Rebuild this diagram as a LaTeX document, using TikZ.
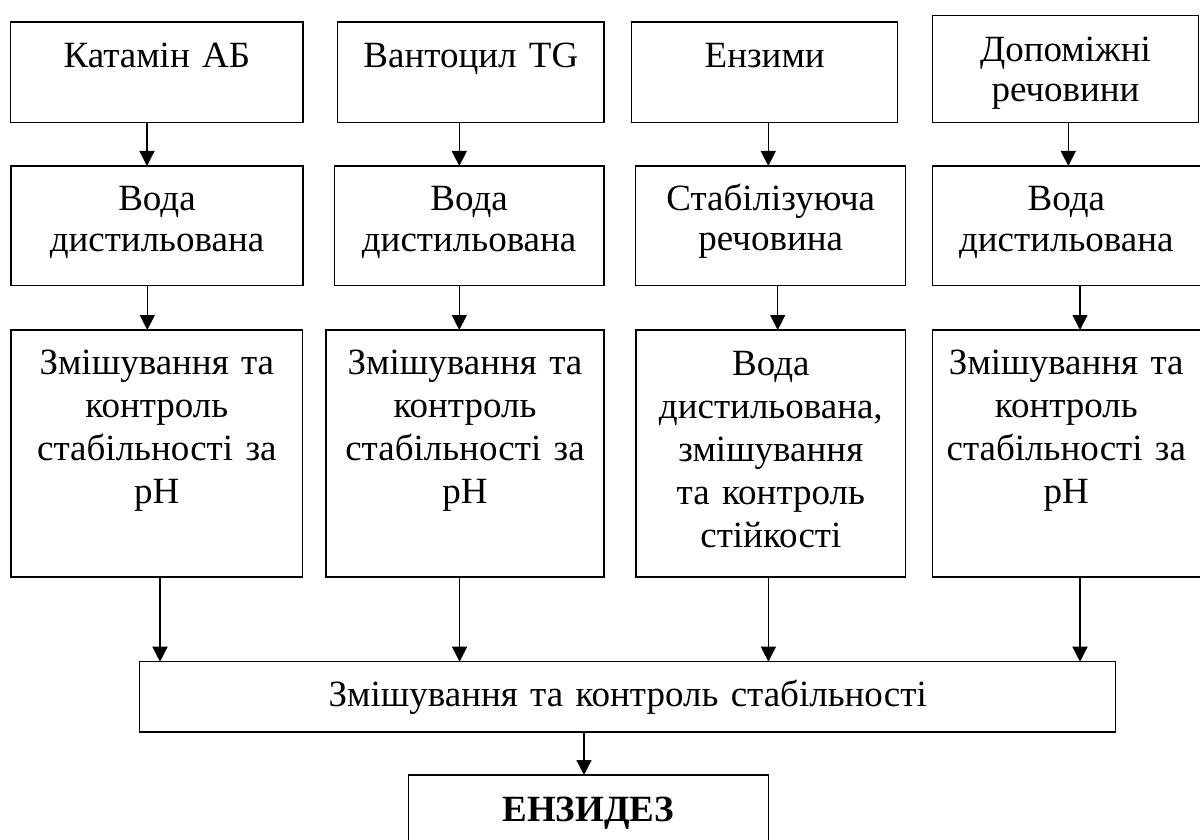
\documentclass[tikz,border=0pt]{standalone}
\usepackage{fontspec}
\setmainfont{Liberation Serif}
\usetikzlibrary{arrows.meta}
\tikzset{
  box/.style={draw, line width=1.4pt, inner sep=0pt, outer sep=0pt, anchor=north west},
  txt/.style={inner sep=0pt, anchor=base, align=center, text width=#1},
  txt/.default=280pt,
  fa/.style={font=\fontsize{37}{40}\selectfont},
  fb/.style={font=\fontsize{37}{43}\selectfont},
  arr/.style={line width=1.3pt, -{Triangle[width=15pt,length=15pt]}}
}
\begin{document}
\begin{tikzpicture}[x=1pt,y=-1pt]
\useasboundingbox (0,0) rectangle (1200,840);
% row 1
\node[box, minimum width=292.3pt, minimum height=100.7pt] (r1a) at (10.7,22) {};
\node[box, minimum width=266.3pt, minimum height=100.7pt] (r1b) at (337.7,22) {};
\node[box, minimum width=266pt, minimum height=100.7pt] (r1c) at (631.7,22) {};
\node[box, minimum width=266.4pt, minimum height=107.4pt] (r1d) at (932.3,15.3) {};
\node[txt, fa, yshift=-46pt] (t1a) at (r1a.north) {Катамін АБ};
\node[txt, fa, yshift=-46pt] (t1b) at (r1b.north) {Вантоцил TG};
\node[txt, fa, yshift=-46pt] (t1c) at (r1c.north) {Ензими};
\node[txt, fa, yshift=-46.4pt] (t1d) at (r1d.north) {Допоміжні\\речовини};
% row 2
\node[box, minimum width=292pt, minimum height=119.7pt] (r2a) at (11,166) {};
\node[box, minimum width=269.7pt, minimum height=119.7pt] (r2b) at (334.3,166) {};
\node[box, minimum width=270pt, minimum height=119.7pt] (r2c) at (635.7,166) {};
\node[box, minimum width=272pt, minimum height=119.7pt] (r2d) at (932.3,166) {};
\node[txt, fa, yshift=-45pt] (t2a) at (r2a.north) {Вода\\дистильована};
\node[txt, fa, yshift=-45pt] (t2b) at (r2b.north) {Вода\\дистильована};
\node[txt, fa, yshift=-44pt] (t2c) at (r2c.north) {Стабілізуюча\\речовина};
\node[txt, fa, yshift=-45pt, xshift=-2pt] (t2d) at (r2d.north) {Вода\\дистильована};
% row 3
\node[box, minimum width=291.7pt, minimum height=247pt] (r3a) at (11,330) {};
\node[box, minimum width=278pt, minimum height=247pt] (r3b) at (326,330) {};
\node[box, minimum width=269.7pt, minimum height=247pt] (r3c) at (636,330) {};
\node[box, minimum width=272pt, minimum height=247pt] (r3d) at (932.3,330) {};
\node[txt, fb, yshift=-44pt] (t3a) at (r3a.north) {Змішування та\\контроль\\стабільності за\\pH};
\node[txt, fb, yshift=-44pt] (t3b) at (r3b.north) {Змішування та\\контроль\\стабільності за\\pH};
\node[txt, fb, yshift=-45pt] (t3c) at (r3c.north) {Вода\\дистильована,\\змішування\\та контроль\\стійкості};
\node[txt, fb, yshift=-44pt, xshift=-2pt] (t3d) at (r3d.north) {Змішування та\\контроль\\стабільності за\\pH};
% middle
\node[box, minimum width=976pt, minimum height=70.3pt] (mid) at (139.7,661.7) {};
\node[txt=900pt, fa, yshift=-45pt] (tm) at (mid.north) {Змішування та контроль стабільності};
% final
\node[box, minimum width=360pt, minimum height=75pt] (fin) at (408.3,775) {};
\node[txt, font=\fontsize{37}{43}\selectfont\bfseries, yshift=-46.7pt] (tf) at (fin.north) {ЕНЗИДЕЗ};
% arrow x positions
\coordinate (a1) at (147,0);
\coordinate (a2) at (459.3,0);
\coordinate (a3) at (768.3,0);
\coordinate (a4) at (1068.3,0);
\coordinate (b1) at (147.3,0);
\coordinate (b2) at (459.3,0);
\coordinate (b3) at (777.7,0);
\coordinate (b4) at (1080,0);
\coordinate (c1) at (160,0);
\coordinate (c2) at (459.6,0);
\coordinate (c3) at (768.4,0);
\coordinate (c4) at (1080,0);
\coordinate (d1) at (584,0);
% arrows
\draw[arr] (r1a.south -| a1) -- (r2a.north -| a1);
\draw[arr] (r1b.south -| a2) -- (r2b.north -| a2);
\draw[arr] (r1c.south -| a3) -- (r2c.north -| a3);
\draw[arr] (r1d.south -| a4) -- (r2d.north -| a4);
\draw[arr] (r2a.south -| b1) -- (r3a.north -| b1);
\draw[arr] (r2b.south -| b2) -- (r3b.north -| b2);
\draw[arr] (r2c.south -| b3) -- (r3c.north -| b3);
\draw[arr] (r2d.south -| b4) -- (r3d.north -| b4);
\draw[arr] (r3a.south -| c1) -- (mid.north -| c1);
\draw[arr] (r3b.south -| c2) -- (mid.north -| c2);
\draw[arr] (r3c.south -| c3) -- (mid.north -| c3);
\draw[arr] (r3d.south -| c4) -- (mid.north -| c4);
\draw[arr] (mid.south -| d1) -- (fin.north -| d1);
\end{tikzpicture}
\end{document}
